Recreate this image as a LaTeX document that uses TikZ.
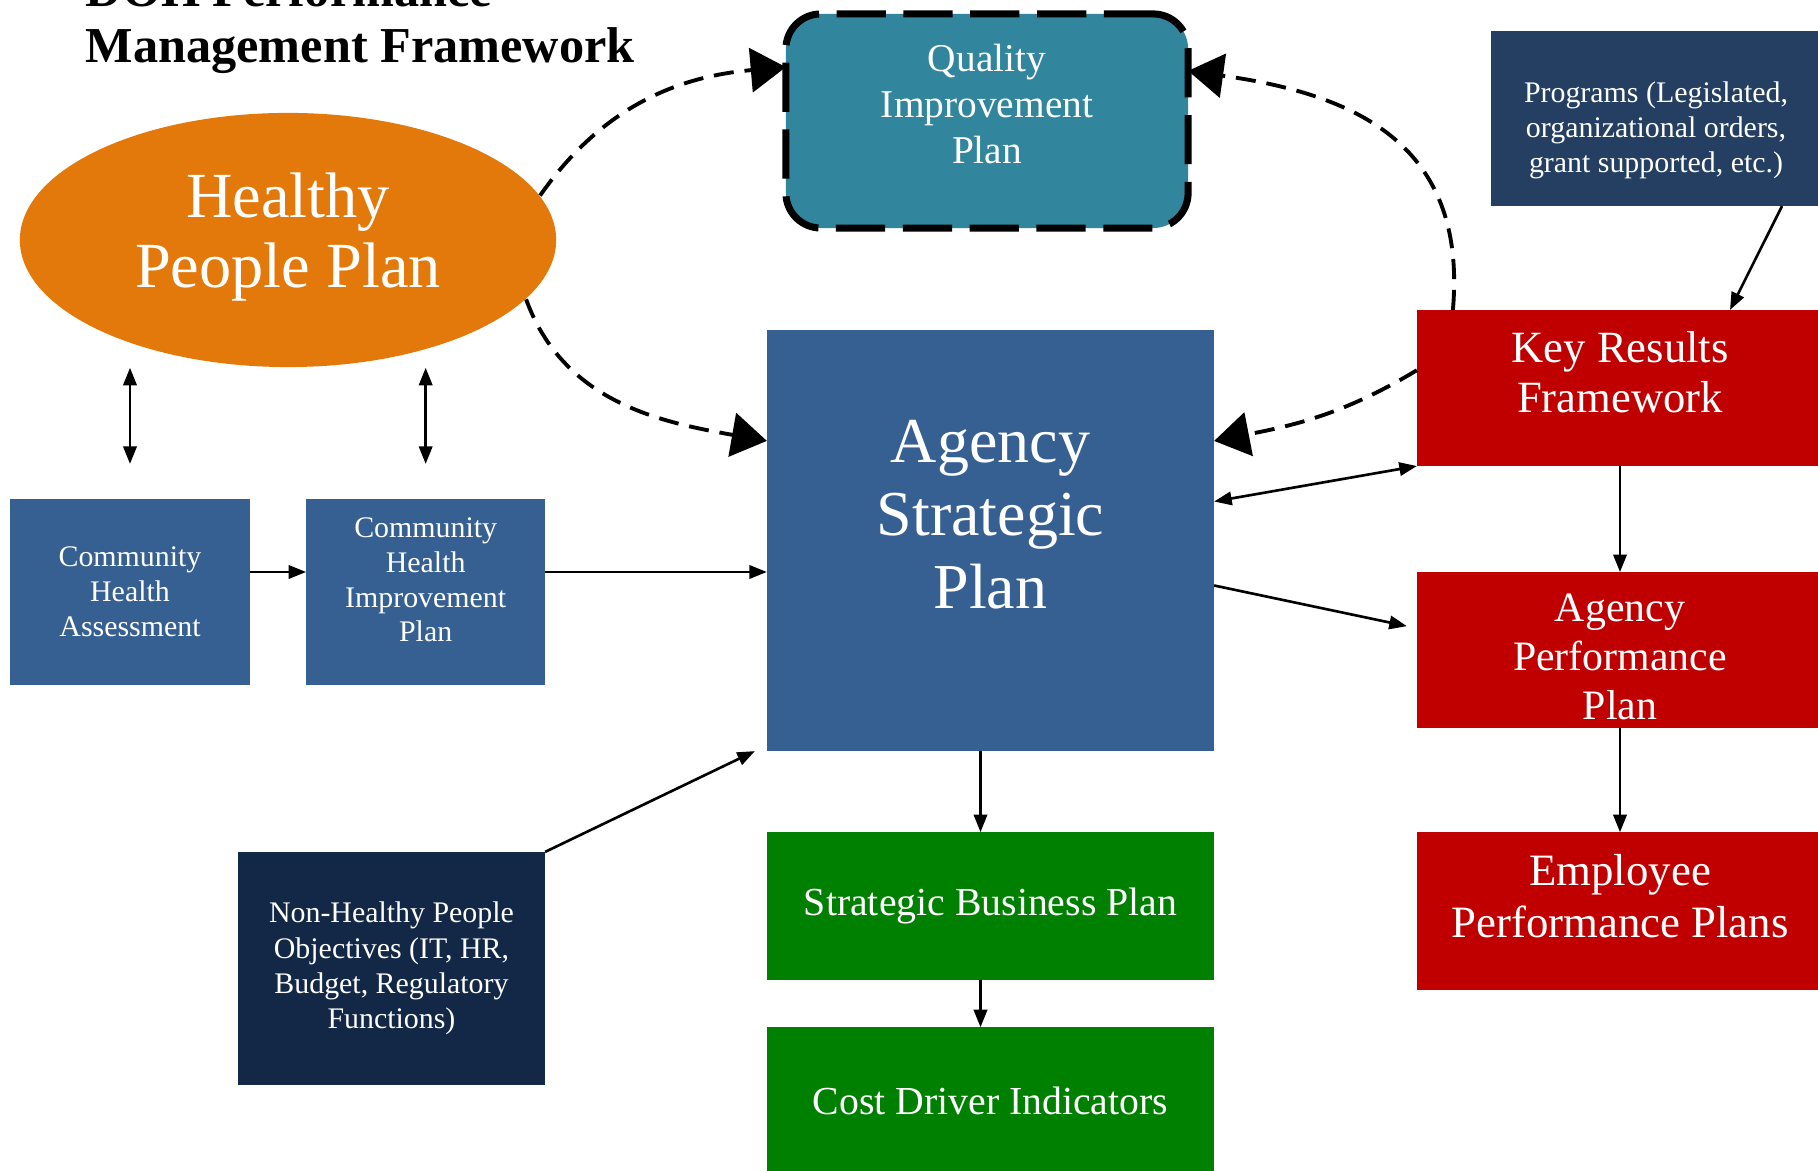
\documentclass[tikz,border=0pt]{standalone}
\usepackage{fontspec}
\setmainfont{Liberation Serif}
\usetikzlibrary{positioning}
\usetikzlibrary{calc}
\usetikzlibrary {arrows.meta}
\usetikzlibrary{shapes.geometric}
\definecolor{hpporange}{RGB}{227,121,10}
\definecolor{qipteal}{RGB}{49,133,156}
\definecolor{aspblue}{RGB}{55,96,146}
\definecolor{progblue}{RGB}{36,63,98}
\definecolor{nhpnavy}{RGB}{19,40,70}
\definecolor{krfred}{RGB}{192,0,0}
\definecolor{sbpgreen}{RGB}{0,128,0}
\tikzset{planbox/.style={rectangle,draw=none,text=white,align=center,
inner sep=2pt,outer sep=0pt}}
\tikzset{boxtext/.style={text=white,align=center,inner sep=0pt}}
\tikzset{titletext/.style={inner sep=0pt,font=\fontsize{14.3}{16}\selectfont\bfseries}}
\tikzset{flowarrow/.style={line width=0.75pt,-{Triangle[length=5pt,width=3.8pt]}}}
\tikzset{flowboth/.style={line width=0.75pt,
{Triangle[length=5pt,width=3.8pt]}-{Triangle[length=5pt,width=3.8pt]}}}
\tikzset{loopline/.style={line width=1.1pt,dash pattern=on 5.7pt off 3.1pt,
-{Triangle[length=10pt,width=12.5pt]}}}

\begin{document}
\begin{tikzpicture}[x=0.01cm,y=0.01cm]
    \useasboundingbox (0,0) rectangle (1818,-1171);
    \clip (0,0) rectangle (1818,-1171);

    \node[titletext,anchor=base west] (titleA) at (85,-7) {DOH Performance};
    \node[titletext,anchor=base west] (titleB) at (85,-63) {Management Framework};

    \node[ellipse,fill=hpporange,minimum width=5.36cm,minimum height=2.54cm,inner sep=0pt] (hpp) at (288,-240) {};
    \node[boxtext,font=\fontsize{18.3}{20.1}\selectfont] (hpptext) at ($(hpp)+(0,3)$)
        {Healthy\\People Plan};

    \node[planbox,fill=qipteal,draw=black,line width=2pt,dash pattern=on 14pt off 5pt,
        rounded corners=0.35cm,minimum width=4.02cm,minimum height=2.14cm] (qip) at (987,-121) {};
    \node[boxtext,font=\fontsize{11.2}{13.2}\selectfont] (qiptext) at ($(qip)+(0,17)$)
        {Quality\\Improvement\\Plan};

    \node[planbox,fill=aspblue,minimum width=4.47cm,minimum height=4.21cm] (asp) at (990.5,-540.5) {};
    \node[boxtext,font=\fontsize{18.2}{20.8}\selectfont] (asptext) at ($(asp)+(0,26)$)
        {Agency\\Strategic\\Plan};
    \node[planbox,fill=sbpgreen,minimum width=4.47cm,minimum height=1.48cm,
        font=\fontsize{11.3}{13}\selectfont] (sbp) [below=0.81cm of asp] {Strategic Business Plan};
    \node[planbox,fill=sbpgreen,minimum width=4.47cm,minimum height=1.48cm,
        font=\fontsize{11.3}{13}\selectfont] (cdi) [below=0.47cm of sbp] {Cost Driver Indicators};

    \node[planbox,fill=progblue,minimum width=3.30cm,minimum height=1.75cm] (prog) at (1656,-118.5) {};
    \node[boxtext,font=\fontsize{8.5}{10}\selectfont] (progtext) at ($(prog)+(0,-12)$)
        {Programs (Legislated,\\organizational orders,\\grant supported, etc.)};
    \node[planbox,fill=krfred,minimum width=4.06cm,minimum height=1.56cm] (krf) at (1620,-388) {};
    \node[boxtext,font=\fontsize{12.7}{14.2}\selectfont] (krftext) at ($(krf)+(0,16)$)
        {Key Results\\Framework};
    \node[planbox,fill=krfred,minimum width=4.06cm,minimum height=1.56cm] (app) [below=1.06cm of krf] {};
    \node[boxtext,font=\fontsize{11.9}{13.9}\selectfont] (apptext) at ($(app)+(0,-7)$)
        {Agency\\Performance\\Plan};
    \node[planbox,fill=krfred,minimum width=4.06cm,minimum height=1.58cm] (epp) [below=1.04cm of app] {};
    \node[boxtext,font=\fontsize{12.75}{14.8}\selectfont] (epptext) at ($(epp)+(0,15)$)
        {Employee\\Performance Plans};

    \node[planbox,fill=aspblue,minimum width=2.40cm,minimum height=1.86cm,
        font=\fontsize{8.5}{9.9}\selectfont] (cha) at (130,-592) {Community\\Health\\Assessment};
    \node[planbox,fill=aspblue,minimum width=2.39cm,minimum height=1.86cm] (chip) [right=0.56cm of cha] {};
    \node[boxtext,font=\fontsize{8.5}{9.9}\selectfont] (chiptext) at ($(chip)+(0,12)$)
        {Community\\Health\\Improvement\\Plan};
    \node[planbox,fill=nhpnavy,minimum width=3.07cm,minimum height=2.33cm,
        font=\fontsize{8.5}{10}\selectfont] (nhp) at (391.5,-968.5)
        {Non-Healthy People\\Objectives (IT, HR,\\Budget, Regulatory\\Functions)};

    % dashed loop round the strategic plan
    \draw[loopline] (hpp.10) to[out=55,in=185] (qip.165);
    \draw[loopline] (hpp.346) to[out=-70,in=170] (asp.156);
    \draw[loopline] ($(krf.north west)+(36,0)$) to[out=85,in=-8,looseness=1.2] (qip.14);
    \draw[loopline] (krf.175) to[out=211,in=11] (asp.24);

    \draw[flowboth] (cha.north |- hpp.south) -- ($(cha.north)+(0,35)$);
    \draw[flowboth] (chip.north |- hpp.south) -- ($(chip.north)+(0,35)$);
    \draw[flowarrow] ($(cha.east)+(0,20)$) -- ($(chip.west)+(0,20)$);
    \draw[flowarrow] ($(chip.east)+(0,20)$) -- ($(chip.east -| asp.west)+(0,20)$);
    \draw[flowarrow] (nhp.north east) -- ($(asp.south west)+(-12,0)$);

    \draw[flowarrow] ($(asp.south)+(-10,0)$) -- ($(sbp.north)+(-10,0)$);
    \draw[flowarrow] ($(sbp.south)+(-10,0)$) -- ($(cdi.north)+(-10,0)$);

    \draw[flowarrow] ($(prog.south)+(126,0)$) -- ($(krf.north)+(110,0)$);
    \draw[flowboth] ($(asp.east)+(0,39)$) -- (krf.south west);
    \draw[flowarrow] ($(asp.east)+(0,-45)$) -- ($(app.west)+(-10,24)$);
    \draw[flowarrow] (krf.south) -- (app.north);
    \draw[flowarrow] (app.south) -- (epp.north);

\end{tikzpicture}
\end{document}
